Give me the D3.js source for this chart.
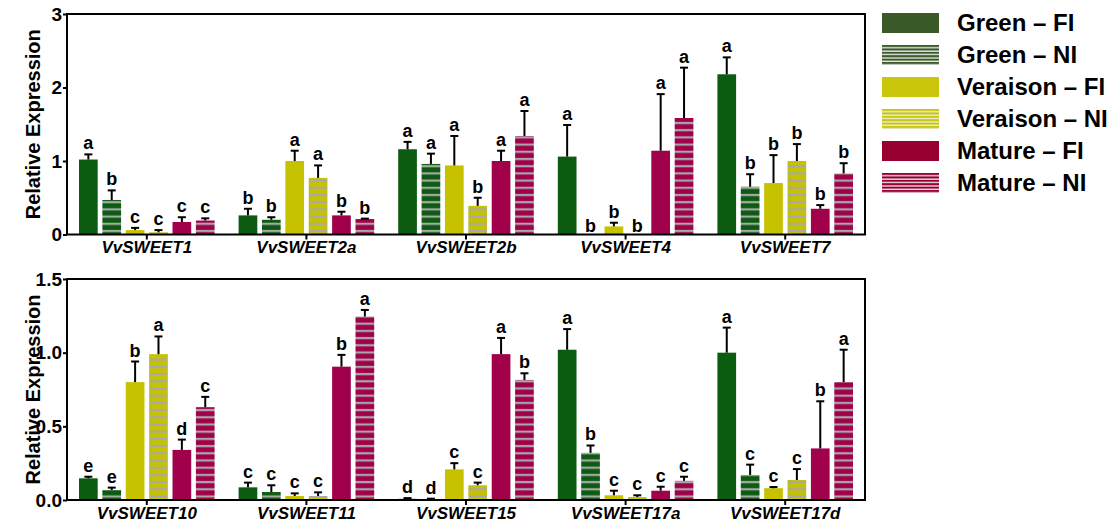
<!DOCTYPE html>
<html>
<head>
<meta charset="utf-8">
<script src="https://cdn.jsdelivr.net/npm/d3@7"></script>
<style>
body { margin: 0; background: #fff; }
text { font-family: "Liberation Sans", Arial, sans-serif; font-weight: bold; fill: #000; }
</style>
</head>
<body>
<div class="canva"></div>
<script>
// series (legend order)
const series = ["Green – FI", "Green – NI", "Veraison – FI", "Veraison – NI", "Mature – FI", "Mature – NI"];

// top panel
const genesTop = ["VvSWEET1", "VvSWEET2a", "VvSWEET2b", "VvSWEET4", "VvSWEET7"];
const meansTop = [
  [1.02, 0.47, 0.06, 0.03, 0.17, 0.19],
  [0.26, 0.20, 1.00, 0.77, 0.26, 0.21],
  [1.16, 0.96, 0.94, 0.39, 1.00, 1.34],
  [1.06, 0, 0.11, 0, 1.14, 1.585],
  [2.18, 0.65, 0.70, 1.00, 0.35, 0.83]
];
const errTop = [
  [0.07, 0.13, 0.03, 0.03, 0.065, 0.03],
  [0.09, 0.035, 0.14, 0.17, 0.05, 0.006],
  [0.10, 0.14, 0.40, 0.11, 0.14, 0.34],
  [0.43, 0, 0.05, 0, 0.77, 0.685],
  [0.23, 0.17, 0.38, 0.23, 0.05, 0.14]
];
const lettersTop = [
  ["a", "b", "c", "c", "c", "c"],
  ["b", "b", "a", "a", "b", "b"],
  ["a", "a", "a", "b", "a", "a"],
  ["a", "b", "b", "b", "a", "a"],
  ["a", "b", "b", "b", "b", "b"]
];
const ticksTop = [0, 1, 2, 3];

// bottom panel
const genesBot = ["VvSWEET10", "VvSWEET11", "VvSWEET15", "VvSWEET17a", "VvSWEET17d"];
const meansBot = [
  [0.147, 0.068, 0.80, 0.99, 0.34, 0.63],
  [0.086, 0.054, 0.027, 0.027, 0.905, 1.245],
  [0.008, 0.005, 0.208, 0.10, 0.99, 0.815],
  [1.02, 0.32, 0.032, 0.02, 0.063, 0.13],
  [1.00, 0.17, 0.08, 0.136, 0.35, 0.80]
];
const errBot = [
  [0.011, 0.016, 0.14, 0.12, 0.07, 0.07],
  [0.032, 0.046, 0.018, 0.025, 0.08, 0.045],
  [0.005, 0.004, 0.042, 0.018, 0.11, 0.045],
  [0.14, 0.05, 0.031, 0.012, 0.027, 0.028],
  [0.17, 0.07, 0.008, 0.074, 0.32, 0.22]
];
const lettersBot = [
  ["e", "e", "b", "a", "d", "c"],
  ["c", "c", "c", "c", "b", "a"],
  ["d", "d", "c", "c", "a", "b"],
  ["a", "b", "c", "c", "c", "c"],
  ["a", "c", "c", "c", "b", "a"]
];
const ticksBot = [0, 0.5, 1.0, 1.5];

const barColors = ["#0b5c10", "#0b5c10", "#c6c200", "#c6c200", "#a1004b", "#a1004b"];
const legendColors = ["#3b5a29", "#3b5a29", "#c9c60c", "#c9c60c", "#990032", "#990032"];
const stripeGray = "#a8a8a8";

const svg = d3.select(".canva").append("svg")
    .attr("width", 1114)
    .attr("height", 528);
const defs = svg.append("defs");

const left = 67, right = 865;

function drawPanel(id, genes, means, errs, letters, ticks, fmt, top, bottom) {
  const x = d3.scaleBand().domain(genes).range([left, right]);
  const inner = d3.scaleBand().domain(d3.range(series.length))
      .range([12, x.bandwidth() - 12]).paddingInner(0.2);
  const y = d3.scaleLinear().domain([0, ticks[ticks.length - 1]]).range([bottom, top]);

  // stripe patterns for the NI bars, anchored on the baseline
  barColors.forEach((c, i) => {
    if (i % 2 === 0) return;
    const p = defs.append("pattern")
        .attr("id", `s${id}${i}`)
        .attr("patternUnits", "userSpaceOnUse")
        .attr("x", 0).attr("y", bottom)
        .attr("width", 10).attr("height", 7.2);
    p.append("rect").attr("width", 10).attr("height", 7.2).attr("fill", c);
    p.append("rect").attr("y", 2.6).attr("width", 10).attr("height", 2.2).attr("fill", stripeGray);
  });

  const g = svg.append("g");

  genes.forEach((gene, gi) => {
    means[gi].forEach((v, i) => {
      const bx = x(gene) + inner(i);
      const cx = bx + inner.bandwidth() / 2;
      const e = errs[gi][i];
      if (v > 0) {
        g.append("rect")
          .attr("x", bx)
          .attr("y", y(v))
          .attr("width", inner.bandwidth())
          .attr("height", y(0) - y(v))
          .attr("fill", i % 2 ? `url(#s${id}${i})` : barColors[i]);
      }
      if (e > 0) {
        g.append("line")
          .attr("x1", cx).attr("x2", cx)
          .attr("y1", y(v)).attr("y2", y(v + e))
          .attr("stroke", "#000").attr("stroke-width", 2);
        g.append("line")
          .attr("x1", cx - 4).attr("x2", cx + 4)
          .attr("y1", y(v + e)).attr("y2", y(v + e))
          .attr("stroke", "#000").attr("stroke-width", 2);
      }
      g.append("text")
        .attr("x", cx)
        .attr("y", y(v + e) - (v > 0 ? 5 : 3))
        .attr("text-anchor", "middle")
        .attr("font-size", 18)
        .text(letters[gi][i]);
    });
  });

  // axes
  const yAxis = d3.axisLeft(y).tickValues(ticks).tickFormat(fmt).tickSize(4).tickPadding(1);
  const ya = svg.append("g").attr("transform", `translate(${left},0)`).call(yAxis);
  ya.select(".domain").remove();
  ya.selectAll("line").attr("stroke-width", 2);
  ya.selectAll("text").attr("font-size", 19).attr("font-family", null);

  const xAxis = d3.axisBottom(x).tickSize(5).tickPadding(1.5);
  const xa = svg.append("g").attr("transform", `translate(0,${bottom})`).call(xAxis);
  xa.select(".domain").remove();
  xa.selectAll("line").attr("stroke-width", 2);
  xa.selectAll("text").attr("font-size", 17).attr("font-style", "italic").attr("font-family", null);

  // frame
  svg.append("rect")
    .attr("x", left).attr("y", top)
    .attr("width", right - left).attr("height", bottom - top)
    .attr("fill", "none").attr("stroke", "#000").attr("stroke-width", 2);

  svg.append("text")
    .attr("transform", "rotate(-90)")
    .attr("x", -(top + bottom) / 2)
    .attr("y", 40)
    .attr("text-anchor", "middle")
    .attr("font-size", 20)
    .text("Relative Expression");
}

drawPanel("t", genesTop, meansTop, errTop, lettersTop, ticksTop, d3.format("d"), 14, 234.5);
drawPanel("b", genesBot, meansBot, errBot, lettersBot, ticksBot, d3.format(".1f"), 279, 500);

// legend
const legend = svg.append("g");
series.forEach((s, i) => {
  const y0 = 13 + 32 * i;
  let fill = legendColors[i];
  if (i % 2) {
    const p = defs.append("pattern")
        .attr("id", `l${i}`)
        .attr("patternUnits", "userSpaceOnUse")
        .attr("x", 0).attr("y", y0)
        .attr("width", 10).attr("height", 3.4);
    p.append("rect").attr("width", 10).attr("height", 3.4).attr("fill", legendColors[i]);
    p.append("rect").attr("y", 2.1).attr("width", 10).attr("height", 1.3).attr("fill", "#eeeeee");
    fill = `url(#l${i})`;
  }
  legend.append("rect")
    .attr("x", 882).attr("y", y0)
    .attr("width", 57).attr("height", 20)
    .attr("fill", fill);
  legend.append("text")
    .attr("x", 957).attr("y", y0 + 18)
    .attr("font-size", 24)
    .text(s);
});
</script>
</body>
</html>
